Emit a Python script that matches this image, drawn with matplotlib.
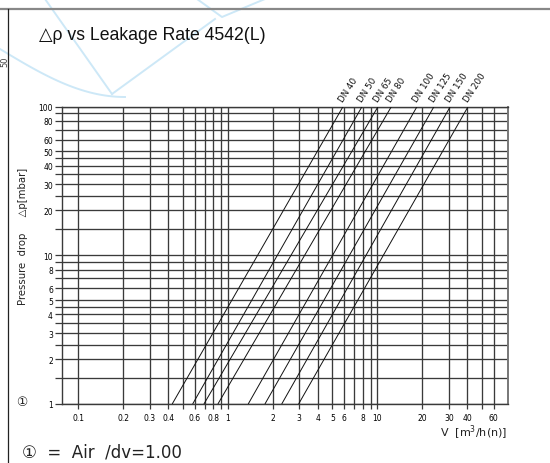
import matplotlib
matplotlib.use("Agg")
import matplotlib.pyplot as plt
from matplotlib.lines import Line2D
import numpy as np

# ---------------- data ----------------
dn_labels = ["DN 40", "DN 50", "DN 65", "DN 80", "DN 100", "DN 125", "DN 150", "DN 200"]
flow_at_1mbar = [0.424, 0.581, 0.691, 0.857, 1.367, 1.768, 2.29, 2.97]      # m3/h(n) at dp = 1 mbar
flow_at_100mbar = [5.89, 7.89, 10.1, 12.4, 18.4, 23.9, 30.7, 40.4]         # m3/h(n) at dp = 100 mbar
dp_ends = [1, 100]

x_grid = [0.1, 0.2, 0.3, 0.4, 0.5, 0.6, 0.7, 0.8, 0.9, 1, 2, 3, 4, 5, 6, 7, 8, 9, 10, 20, 30, 40, 50, 60]
x_ticklabels = ["0.1", "0.2", "0.3", "0.4", "", "0.6", "", "0.8", "", "1", "2", "3", "4", "5", "6", "",
                "8", "", "10", "20", "30", "40", "", "60"]
y_grid = [1, 1.5, 2, 2.5, 3, 3.5, 4, 4.5, 5, 6, 7, 8, 9, 10, 15, 20, 25, 30, 35, 40, 45, 50, 60, 70, 80, 90, 100]
y_ticklabels = ["1", "", "2", "", "3", "", "4", "", "5", "6", "", "8", "", "10", "", "20", "", "30", "",
                "40", "", "50", "60", "", "80", "", "100"]

title = "\u25b3\u03c1 vs Leakage Rate 4542(L)"
ylabel = "Pressure  drop     \u25b3p[mbar]"
xlabel = "V  [m$^3$/h(n)]"
note = "\u2460  =  Air  /dv=1.00"

# ---------------- figure ----------------
W, H = 550, 464
fig = plt.figure(figsize=(W / 100, H / 100), dpi=100)
fig.patch.set_facecolor("white")

L, R, T, B = 62, 507.7, 107.5, 405
ax = fig.add_axes([L / W, 1 - B / H, (R - L) / W, (B - T) / H])
ax.set_xscale("log")
ax.set_yscale("log")
ax.set_xlim(0.0777, 74.3)
ax.set_ylim(1, 100)

grid_col = "#3a3a3a"
for xv in x_grid:
    ax.axvline(xv, color=grid_col, lw=0.95, zorder=1)
for yv in y_grid:
    ax.axhline(yv, color=grid_col, lw=0.95, zorder=1)

ax.xaxis.set_minor_locator(matplotlib.ticker.NullLocator())
ax.yaxis.set_minor_locator(matplotlib.ticker.NullLocator())
ax.set_xticks(x_grid)
ax.set_xticklabels(x_ticklabels)
ax.set_yticks(y_grid)
ax.set_yticklabels(y_ticklabels)
ax.tick_params(axis="x", length=3.8, width=0.9, color=grid_col, pad=2.5, labelsize=5.5)
ax.tick_params(axis="y", length=5, width=0.9, color=grid_col, pad=1.5, labelsize=5.5)
for s in ax.spines.values():
    s.set_color(grid_col)
    s.set_linewidth(1.0)
ax.spines["right"].set_color("#777777")
ax.spines["right"].set_linewidth(1.4)

for lab, q1, q100 in zip(dn_labels, flow_at_1mbar, flow_at_100mbar):
    ax.plot([q1, q100], dp_ends, color="#111111", lw=0.7, zorder=3, solid_capstyle="butt")
    ax.annotate(lab, xy=(q100, dp_ends[1]), xytext=(1.0, 2.5), textcoords="offset points",
                rotation=57, rotation_mode="anchor", ha="left", va="bottom",
                fontsize=6.3, color="#111111", annotation_clip=False)

# ---------------- texts ----------------
fig.text(39 / W, 1 - 35 / H, title, fontsize=12.7, family=["Liberation Sans", "DejaVu Sans"],
         va="center", ha="left", color="#111111")
fig.text(23 / W, 1 - 236 / H, ylabel, rotation=90, fontsize=7.3, va="center", ha="center", color="#222222")
fig.text(507 / W, 1 - 433 / H, xlabel, fontsize=8, va="center", ha="right", color="#222222")
fig.text(22 / W, 1 - 453 / H, note, fontsize=12, va="center", ha="left", color="#222222",
         family=["DejaVu Sans"])
fig.text(22 / W, 1 - 403 / H, "\u2460", fontsize=9, va="center", ha="center", color="#222222")
fig.text(4.5 / W, 1 - 62 / H, "50", rotation=90, fontsize=6, va="center", ha="center", color="#444444")

# ---------------- frame + watermark decoration ----------------
def fline(xs, ys, **kw):
    fig.add_artist(Line2D([x / W for x in xs], [1 - y / H for y in ys], transform=fig.transFigure, **kw))

fline([0, W], [10, 10], color="#888888", lw=1.6)
fline([8, 8], [10, H], color="#222222", lw=0.9)

wm = dict(color="#cde8f7", lw=1.4, zorder=0)
t = np.linspace(0, 1, 50)
fline(list(0 + 125 * t), list(50 + 48 * np.sin(t * np.pi / 2)), **wm)
fline([45, 112], [0, 95], **wm)
fline([112, 215], [95, 20], **wm)
fline([197, 222, 265], [0, 18, 0], **wm)

fig.savefig("out.png", dpi=100, facecolor="white")
